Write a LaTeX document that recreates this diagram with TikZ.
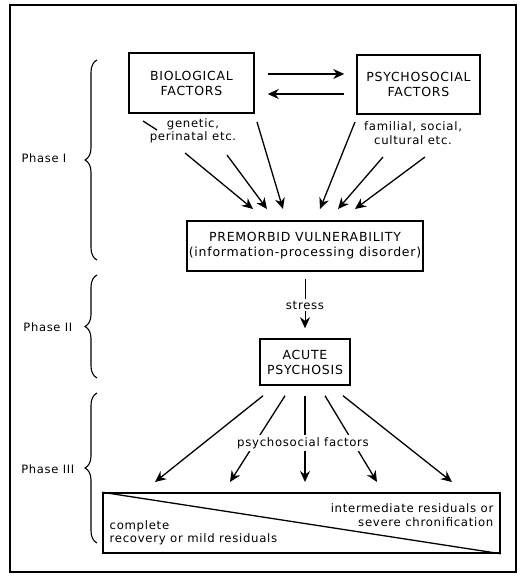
\documentclass[tikz,border=0pt]{standalone}
\usepackage{fontspec}
\setmainfont{DejaVu Sans}
\newfontfamily\scanfont[LetterSpace=6]{DejaVu Sans}
\usetikzlibrary{positioning, calc, arrows.meta, decorations.pathreplacing}

\begin{document}
\begin{tikzpicture}[x=1pt, y=-1pt, line width=1.3pt]
	\tikzstyle{factorbox}=[rectangle, draw=black, line width=1.5pt, align=center, inner sep=2pt, font=\scanfont\fontsize{12.5}{15}\selectfont]
	\tikzstyle{note}=[align=center, inner sep=1pt, font=\scanfont\fontsize{11.7}{13.5}\selectfont]
	\tikzstyle{phase}=[anchor=east, inner sep=1pt, font=\scanfont\fontsize{11.5}{13}\selectfont]
	\tikzstyle{arr}=[-{Stealth[length=11pt, width=10pt]}]
	\tikzstyle{phasebrace}=[decorate, decoration={brace, amplitude=12pt}, line width=1.1pt]

	\useasboundingbox (0,0) rectangle (520,585);
	\draw[line width=1.1pt] (10,5) rectangle (516,572);

	%% boxes
	\node (bio) at (191.5,83) [factorbox, minimum width=125pt, minimum height=60pt]{BIOLOGICAL\\FACTORS};
	\node (psycho) at (418.5,84.5) [factorbox, minimum width=123pt, minimum height=59pt]{PSYCHOSOCIAL\\FACTORS};
	\node (premorbid) at (305,246) [factorbox, minimum width=226pt, minimum height=50pt]{PREMORBID VULNERABILITY\\(information-processing disorder)};
	\node (acute) at (305,362) [factorbox, minimum width=90pt, minimum height=46pt]{ACUTE\\PSYCHOSIS};
	\node (outcome) at (301.5,523) [rectangle, draw=black, line width=1.5pt, minimum width=397pt, minimum height=60pt]{};

	\draw[arr] ($(bio.east)+(13,-9)$) -- ($(psycho.west)+(-12,-10.5)$);
	\draw[arr] ($(psycho.west)+(-12,9.5)$) -- ($(bio.east)+(13,11)$);

	\node (genetic) at (193,131) [note]{genetic,\\perinatal etc.};
	\node (familial) at (413,133) [note]{familial, social,\\cultural etc.};
	\draw (143,121) -- (157,130);

	%% phase I: factors into vulnerability
	\foreach \i/\sx/\sy/\ex in {1/185/153/253, 2/227/155/267, 3/257/122/283, 4/355/122/320, 5/383/157/338, 6/425/157/355}{
		\coordinate (in\i) at (\sx,\sy);
		\coordinate (tip\i) at (\ex,209);
		\draw[arr] (in\i) -- (tip\i);
	}

	%% phase II
	\draw[arr, line width=0.9pt, shorten <=7pt, shorten >=10pt] (premorbid) -- node[note, fill=white, inner sep=2pt]{stress} (acute);

	%% phase III: outcomes
	\foreach \i/\sx/\ex in {1/263/155, 2/285/230, 3/305/305, 4/325/377, 5/343/452}{
		\coordinate (out\i) at (\ex,482);
		\draw[arr] ($(acute.south)+({\sx-305},10)$) -- (out\i);
	}
	\node (psyfac) at (303,443) [note, fill=white, inner sep=2pt]{psychosocial factors};

	\draw (outcome.north west) -- (outcome.south east);
	\node (worse) at (495,515) [note, anchor=east, align=right]{intermediate residuals or\\severe chronification};
	\node (better) at (108,533) [note, anchor=west, align=left]{complete\\recovery or mild residuals};

	%% phases
	\draw[phasebrace] (97,260) -- (97,60);
	\draw[phasebrace] (97,378) -- (97,275);
	\draw[phasebrace] (97,543) -- (97,393);
	\node (ph1) at (68,158) [phase]{Phase I};
	\node (ph2) at (74,327) [phase]{Phase II};
	\node (ph3) at (76,469) [phase]{Phase III};
\end{tikzpicture}
\end{document}
